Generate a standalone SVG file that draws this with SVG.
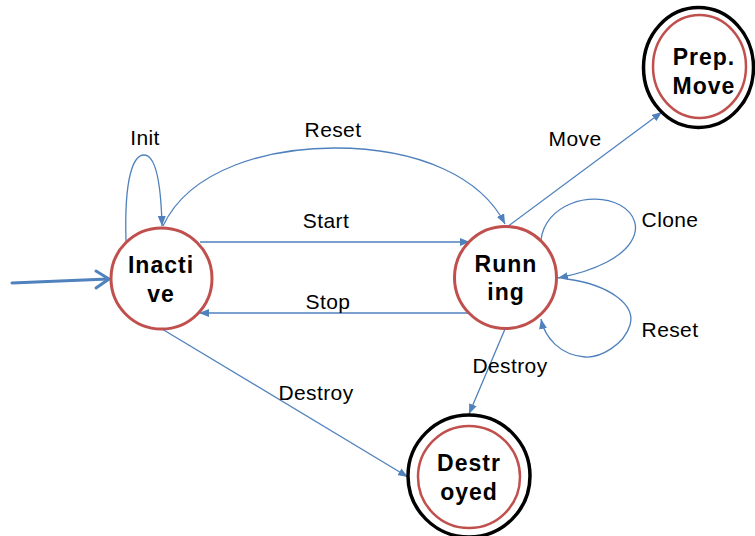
<svg xmlns="http://www.w3.org/2000/svg" width="755" height="536" viewBox="0 0 755 536">
  <style>
    .state { fill: #ffffff; stroke: #C0504D; stroke-width: 3; }
    .final { fill: #ffffff; stroke: #000000; stroke-width: 3.5; }
    .inner { fill: none; stroke: #C0504D; stroke-width: 2.5; }
    .name { font-family: "Liberation Sans", Arial, sans-serif; font-weight: bold; font-size: 23px; letter-spacing: 1px; fill: #000; text-anchor: middle; }
    .label { font-family: "Liberation Sans", Arial, sans-serif; font-size: 21px; letter-spacing: 0.4px; fill: #000; text-anchor: middle; }
    .edge { fill: none; stroke: #4F81BD; stroke-width: 1.3; marker-end: url(#arrow); }
    .start { fill: none; stroke: #4F81BD; stroke-width: 3; stroke-linecap: round; }
  </style>
  <defs>
    <marker id="arrow" viewBox="0 0 10 8" refX="10" refY="4" markerWidth="10" markerHeight="8" markerUnits="userSpaceOnUse" orient="auto">
      <path d="M0,0 L10,4 L0,8 Z" fill="#4F81BD"/>
    </marker>
  </defs>
  <rect width="755" height="536" fill="#ffffff"/>

  <g id="connectors">
    <!-- initial transition -->
    <path class="start" d="M12,283 L108,279"/>
    <path class="start" d="M96,271 L109,279 L96,288"/>
    <!-- Init self loop -->
    <path class="edge" d="M126,241 C124,175 134,155 144,155 C156,155 161,185 162,226"/>
    <!-- Reset arc across the top -->
    <path class="edge" d="M163,226 C190,168 270,148 335,148 C420,148 482,178 505,224"/>
    <!-- Start -->
    <path class="edge" d="M200,242 L470,242"/>
    <!-- Stop -->
    <path class="edge" d="M470,313 L199,313"/>
    <!-- Move -->
    <path class="edge" d="M507,227 L662,112"/>
    <!-- Clone self loop -->
    <path class="edge" d="M541,240 C545,205 590,190 620,205 C650,222 640,262 558,278"/>
    <!-- Reset self loop -->
    <path class="edge" d="M567,279 C610,285 636,305 630,325 C624,345 600,358 585,357 C560,355 545,338 541,319"/>
    <!-- Destroy from Running -->
    <path class="edge" d="M505,329 L469,414"/>
    <!-- Destroy from Inactive -->
    <path class="edge" d="M162,329 L408,477"/>
  </g>

  <g id="labels">
    <text class="label" x="145" y="145">Init</text>
    <text class="label" x="333" y="137">Reset</text>
    <text class="label" x="326" y="228">Start</text>
    <text class="label" x="328" y="309">Stop</text>
    <text class="label" x="575" y="146">Move</text>
    <text class="label" x="670" y="227">Clone</text>
    <text class="label" x="670" y="337">Reset</text>
    <text class="label" x="510" y="373">Destroy</text>
    <text class="label" x="316" y="400">Destroy</text>
  </g>

  <g id="inactive">
    <circle class="state" cx="161.5" cy="278.5" r="50.5"/>
    <text class="name" x="161" y="273">Inacti</text>
    <text class="name" x="161" y="302">ve</text>
  </g>

  <g id="running">
    <circle class="state" cx="505.5" cy="277.5" r="51"/>
    <text class="name" x="506" y="272">Runn</text>
    <text class="name" x="506" y="300">ing</text>
  </g>

  <g id="destroyed">
    <circle class="final" cx="469" cy="476" r="61"/>
    <circle class="inner" cx="469" cy="477" r="51"/>
    <text class="name" x="469" y="471">Destr</text>
    <text class="name" x="469" y="500">oyed</text>
  </g>

  <g id="prep-move">
    <ellipse class="final" cx="698.5" cy="67.5" rx="55" ry="60"/>
    <ellipse class="inner" cx="699.5" cy="66.5" rx="46.5" ry="51.5"/>
    <text class="name" x="704" y="65">Prep.</text>
    <text class="name" x="704" y="94">Move</text>
  </g>
</svg>
